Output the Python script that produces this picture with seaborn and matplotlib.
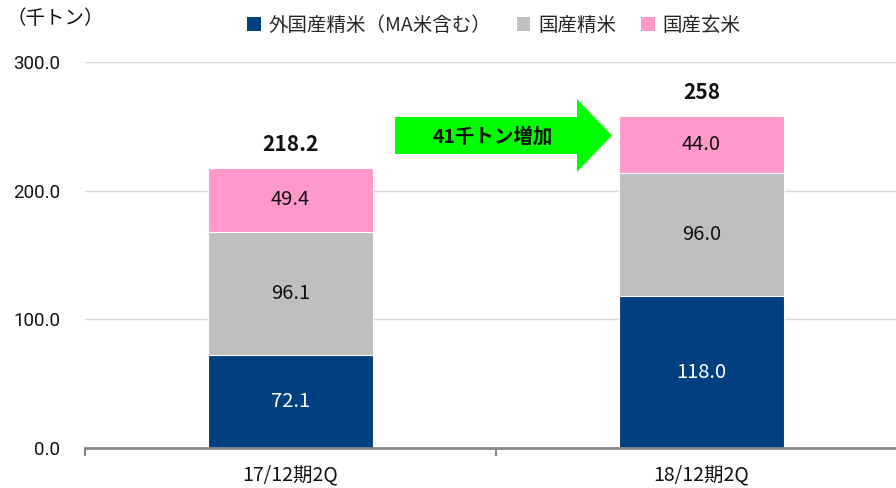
import matplotlib
matplotlib.use("Agg")
import matplotlib.pyplot as plt
import matplotlib.patches as mpatches
from matplotlib.patches import Polygon
import seaborn as sns
import pandas as pd
import numpy as np

categories = ["17/12期2Q", "18/12期2Q"]
series_names = ["外国産精米（MA米含む）", "国産精米", "国産玄米"]
foreign = [72.1, 118.0]
domestic_polished = [96.1, 96.0]
domestic_brown = [49.4, 44.0]
totals_text = ["218.2", "258"]
arrow_text = "41千トン増加"
y_ticks = [0, 100, 200, 300]
y_unit = "（千トン）"

colors = ["#003F80", "#BFBFBF", "#FF99CC"]

sns.set_theme(style="white")
JP = ["Noto Sans CJK JP", "DejaVu Sans"]
NUM = ["Noto Sans CJK JP", "DejaVu Sans"]
plt.rcParams["font.family"] = JP

fig = plt.figure(figsize=(8.96, 4.88), dpi=100)
ax = fig.add_axes([85/896, 1-448/488, (907-85)/896, (448-62)/488])

df = pd.DataFrame({
    "cat": categories,
    "s1": foreign,
    "s2": np.array(foreign) + np.array(domestic_polished),
    "s3": np.array(foreign) + np.array(domestic_polished) + np.array(domestic_brown),
})

for col, c in zip(["s3", "s2", "s1"], colors[::-1]):
    sns.barplot(data=df, x="cat", y=col, color=c, width=0.40, ax=ax,
                edgecolor="white", linewidth=0.8, saturation=1)

ax.set_ylim(0, 300)
ax.set_xlim(-0.5, 1.5)
ax.set_yticks(y_ticks)
ax.set_yticklabels([f"{v:.1f}" for v in y_ticks], fontsize=13.5, family=["Roboto", "DejaVu Sans"], color="#111111")
ax.set_xticks([0, 1])
ax.set_xticklabels(categories, fontsize=14, family=NUM, color="#111111")
ax.set_xlabel("")
ax.set_ylabel("")
ax.yaxis.grid(True, color="#D9D9D9", linewidth=1)
ax.set_axisbelow(True)
for s in ["left", "right", "top"]:
    ax.spines[s].set_visible(False)
ax.spines["bottom"].set_color("#888888")
ax.spines["bottom"].set_linewidth(2)
ax.tick_params(axis="y", length=0, pad=18)
ax.tick_params(axis="x", which="major", length=0, pad=12)
ax.set_xticks([-0.5, 0.5, 1.5], minor=True)
ax.tick_params(axis="x", which="minor", bottom=True, length=6, width=1.5,
               color="#888888", direction="out")

for i in range(len(categories)):
    ax.text(i, foreign[i] / 2, f"{foreign[i]:.1f}", ha="center", va="center",
            color="white", fontsize=14.5, family=NUM)
    ax.text(i, foreign[i] + domestic_polished[i] / 2, f"{domestic_polished[i]:.1f}",
            ha="center", va="center", color="#111111", fontsize=14.5, family=NUM)
    top = foreign[i] + domestic_polished[i]
    ax.text(i, top + domestic_brown[i] / 2, f"{domestic_brown[i]:.1f}",
            ha="center", va="center", color="#111111", fontsize=14.5, family=NUM)
    ax.text(i, top + domestic_brown[i] + 18, totals_text[i], ha="center", va="center",
            color="#111111", fontsize=15, fontweight="bold", family=NUM)

def fp(px, py):
    return (px / 896, 1 - py / 488)

pts = [fp(395, 117), fp(577, 117), fp(577, 99), fp(612, 135.5), fp(577, 172),
       fp(577, 154), fp(395, 154)]
fig.add_artist(Polygon(pts, closed=True, facecolor="#00FF00", edgecolor="none",
                       transform=fig.transFigure))
fig.text(493/896, 1 - 137/488, arrow_text, ha="center", va="center", fontsize=14,
         fontweight="bold", family=JP, color="#111111")

fig.text(6/896, 1 - 18/488, y_unit, ha="left", va="center", fontsize=14, family=JP, color="#111111")

handles = [mpatches.Patch(facecolor=c, edgecolor="none") for c in colors]
fig.legend(handles, series_names, loc="center", bbox_to_anchor=(494/896, 1 - 25/488),
           ncol=3, frameon=False, handlelength=0.7, handleheight=0.7,
           handletextpad=0.4, columnspacing=1.3, prop={"family": JP, "size": 14})

fig.savefig("out.png", dpi=100)
